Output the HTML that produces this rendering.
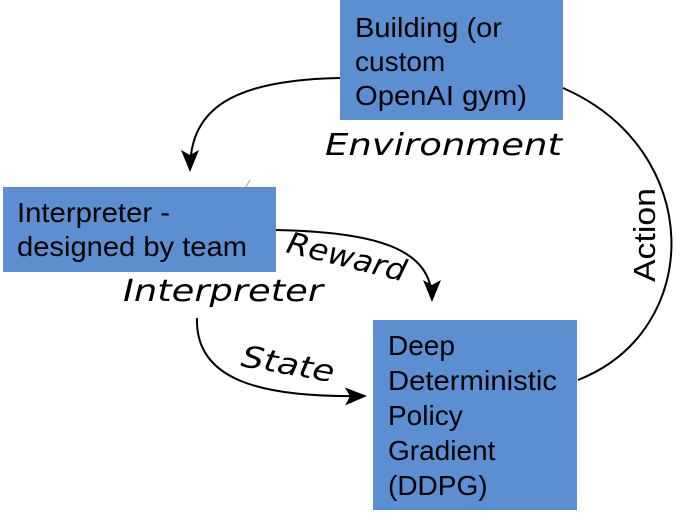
<!DOCTYPE html>
<html><head><style>
html,body{margin:0;padding:0;background:#fff;}
svg{display:block}
.box{fill:#5b8fd1}
.t{font-family:"Liberation Sans",sans-serif;font-size:28px;fill:#000}
.i{font-family:"DejaVu Sans","Liberation Sans",sans-serif;font-style:italic;font-size:30px;fill:#000}
</style></head><body>
<svg width="691" height="521" viewBox="0 0 691 521">
<defs>
<marker id="b" markerWidth="22" markerHeight="18" refX="20" refY="9" orient="auto" markerUnits="userSpaceOnUse"><path d="M0,0 L22,9 L0,18 L5,9 Z" fill="#000"/></marker></defs>
<g fill="none" stroke="#000" stroke-width="2">
<path d="M340,78 C230,80 190,110 190,170" marker-end="url(#b)"/>
<path d="M563,88 C705,150 705,330 578,380"/>
<path d="M276,230 C380,232 432,250 432,300" marker-end="url(#b)"/>
<path d="M197,318 C195,380 260,398 365,396" marker-end="url(#b)"/>
</g>
<path d="M250,180 L244,190 M250,262 L256,272" stroke="#999" stroke-width="1"/>
<rect class="box" x="340" y="0" width="223" height="120"/>
<rect class="box" x="3" y="187" width="273" height="85"/>
<rect class="box" x="373" y="320" width="204" height="190"/>
<text class="t" x="355" y="37" textLength="147" lengthAdjust="spacingAndGlyphs">Building (or</text>
<text class="t" x="355" y="71">custom</text>
<text class="t" x="355" y="105" textLength="172" lengthAdjust="spacingAndGlyphs">OpenAI gym)</text>
<text class="t" x="17" y="222" textLength="153" lengthAdjust="spacingAndGlyphs">Interpreter -</text>
<text class="t" x="17" y="256" textLength="230" lengthAdjust="spacingAndGlyphs">designed by team</text>
<text class="t" x="388" y="355">Deep</text>
<text class="t" x="388" y="390" textLength="169" lengthAdjust="spacingAndGlyphs">Deterministic</text>
<text class="t" x="388" y="425">Policy</text>
<text class="t" x="388" y="460">Gradient</text>
<text class="t" x="388" y="495">(DDPG)</text>
<text class="i" x="325" y="155" textLength="237" lengthAdjust="spacingAndGlyphs">Environment</text>
<text class="i" x="123" y="301" textLength="200" lengthAdjust="spacingAndGlyphs">Interpreter</text>
<text class="i" x="0" y="0" transform="translate(285,252) rotate(14)" textLength="122" lengthAdjust="spacingAndGlyphs">Reward</text>
<text class="i" x="0" y="0" transform="translate(240,366) rotate(10)" textLength="94" lengthAdjust="spacingAndGlyphs">State</text>
<text x="0" y="0" transform="translate(655,282) rotate(-90)" style="font-family:'Liberation Sans',sans-serif;font-size:31px" textLength="94" lengthAdjust="spacingAndGlyphs">Action</text>
</svg>
</body></html>
